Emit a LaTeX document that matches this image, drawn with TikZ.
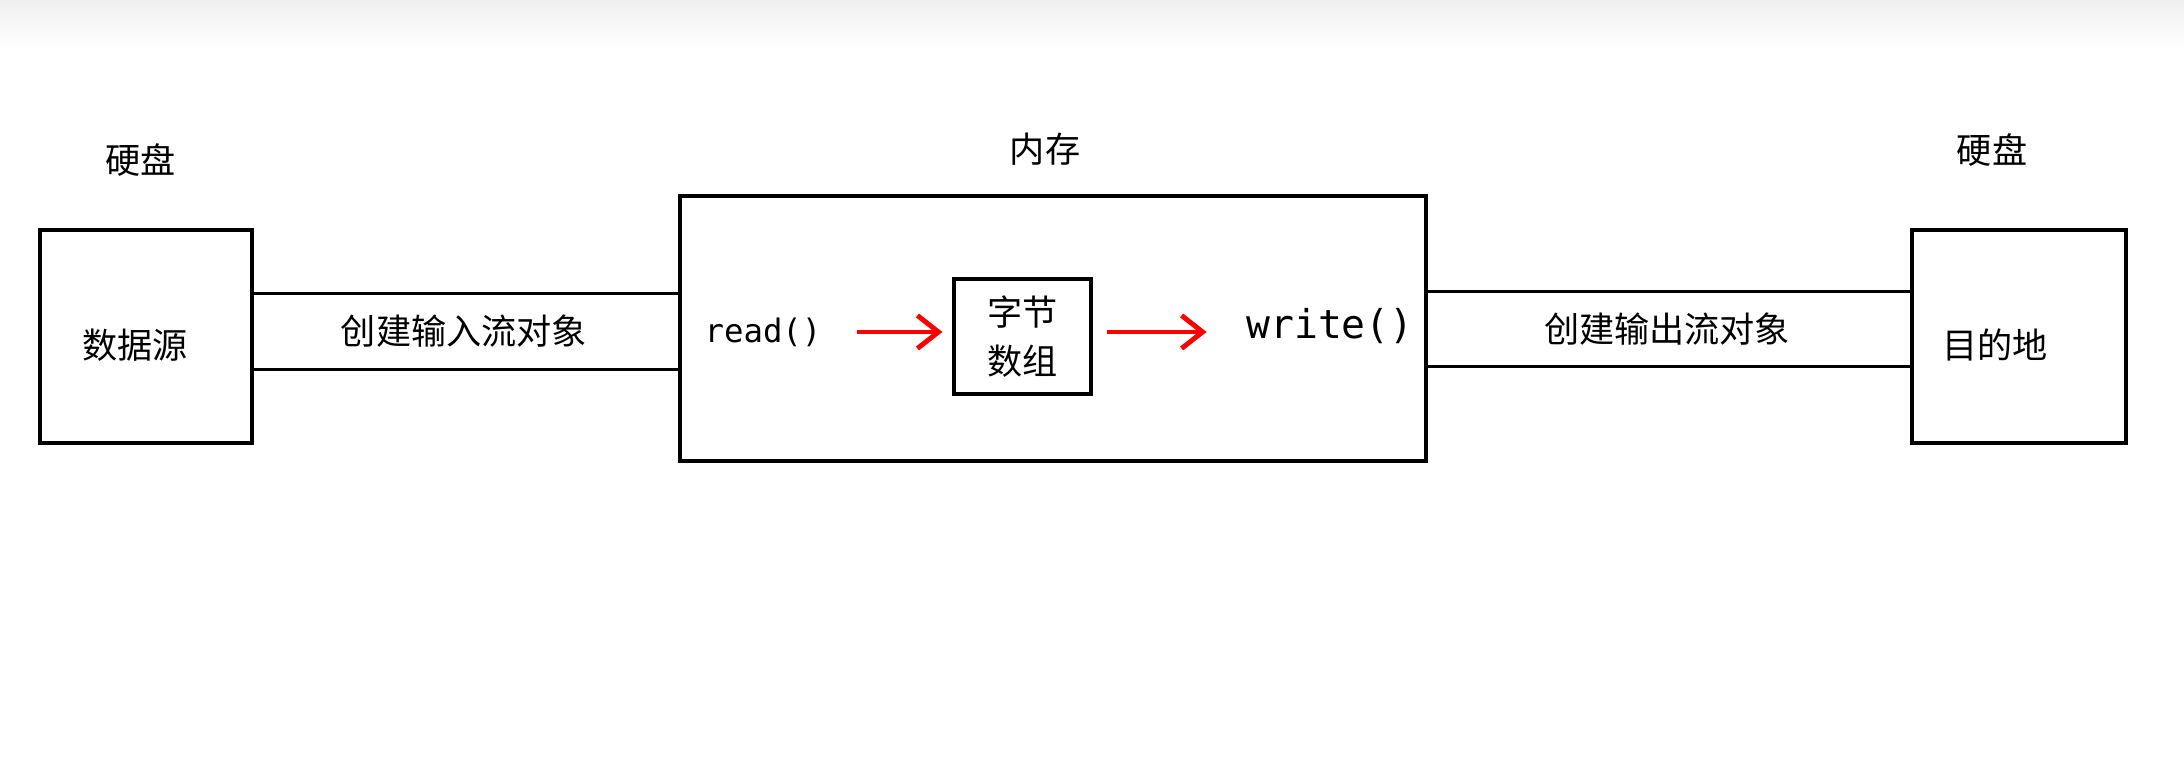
\documentclass[tikz,border=0pt]{standalone}
\usepackage{fontspec}
\setmonofont{DejaVu Sans Mono}
\newfontfamily\cjk{Noto Sans CJK SC}
\usetikzlibrary{arrows.meta,positioning}

\begin{document}
\begin{tikzpicture}
    [box/.style={rectangle,draw=black,line width=0.9pt,inner sep=0pt},
    tag/.style={font=\cjk},
    pipe/.style={font=\cjk,minimum height=7.5mm,inner sep=0pt},
    call/.style={inner sep=0pt},
    tube/.style={draw=black,line width=0.9pt},
    flow/.style={-{Straight Barb[length=2.1mm,width=3.3mm]},draw=red,line width=1.4pt}]

    \fill[white] (0,0) rectangle (21.84,7.72);
    \shade[top color=black!6,bottom color=white] (0,7.22) rectangle (21.84,7.72);
    \useasboundingbox (0,0) rectangle (21.84,7.72);

    % disks and memory
    \node[box,minimum width=21.2mm,minimum height=21.3mm,
          label={[tag,xshift=-1.1mm,yshift=-0.85mm]center:数据源}] (source) at (1.46,4.355) {};
    \node[box,minimum width=21.4mm,minimum height=21.3mm,
          label={[tag,xshift=-2.4mm,yshift=-0.85mm]center:目的地}] (target) at (20.19,4.355) {};
    \node[box,minimum width=74.6mm,minimum height=26.5mm] (memory) at (10.53,4.435) {};

    \node[tag] (diskin)  [above=4mm of source,xshift=-0.5mm] {硬盘};
    \node[tag] (diskout) [above=5mm of target,xshift=-2.7mm] {硬盘};
    \node[tag] (ram)     [above=1.7mm of memory,xshift=-0.8mm] {内存};

    % streams
    \node[pipe] (instream)  at (4.64,4.405) {创建输入流对象};
    \node[pipe,minimum height=7.4mm] (outstream) at (16.67,4.43) {创建输出流对象};
    \draw[tube] (source.east |- instream.north) -- (memory.west |- instream.north);
    \draw[tube] (source.east |- instream.south) -- (memory.west |- instream.south);
    \draw[tube] (memory.east |- outstream.north) -- (target.west |- outstream.north);
    \draw[tube] (memory.east |- outstream.south) -- (target.west |- outstream.south);

    % inside the memory
    \node[box,align=center,minimum width=13.7mm,minimum height=11.5mm,
          font={\cjk\fontsize{10pt}{14pt}\selectfont}] (array) at (10.225,4.355) {字节\\数组};
    \node[call,font={\ttfamily\fontsize{9.2pt}{11pt}\selectfont}] (read) at (7.63,4.40) {read()};
    \node[call,font={\ttfamily\fontsize{11.3pt}{13pt}\selectfont}] (write) at (13.30,4.46) {write()};

    \draw[flow,shorten <=3.5mm,shorten >=1mm] (read.east) -- (read.east -| array.west);
    \draw[flow,shorten <=1.4mm,shorten >=3.9mm] (array.east |- read.east) -- (write.west |- read.east);
\end{tikzpicture}
\end{document}
